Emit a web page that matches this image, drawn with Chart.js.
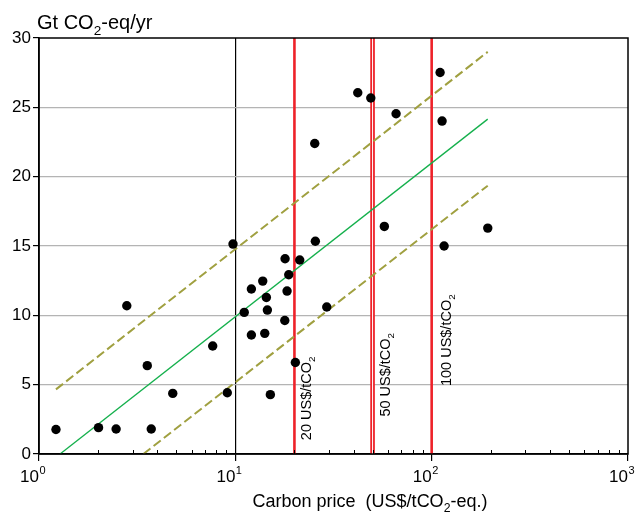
<!DOCTYPE html>
<html>
<head>
<meta charset="utf-8">
<script src="https://cdn.jsdelivr.net/npm/chart.js@4.4.1/dist/chart.umd.min.js"></script>
<style>
  body { margin: 0; background: #fff; }
  canvas { display: block; }
</style>
</head>
<body>
<canvas id="grafico" width="638" height="512"></canvas>
<script>
// dados
const precos = [1.22, 2.01, 2.47, 2.80, 3.56, 3.73, 4.80, 7.67, 9.10, 9.73, 11.1, 12.07, 12.07, 13.79, 14.12, 14.39, 14.56, 15.08, 17.92, 17.86, 18.71, 18.34, 21.28, 20.22, 29.22, 25.38, 25.56, 42.03, 48.97, 57.41, 65.87, 110.4, 113.0, 115.7, 193.1];
const emissoes = [1.77, 1.90, 1.80, 10.69, 6.37, 1.80, 4.37, 7.79, 4.42, 15.14, 10.21, 11.9, 8.58, 12.47, 8.70, 11.29, 10.38, 4.28, 14.08, 9.63, 12.93, 11.75, 13.99, 6.60, 10.6, 22.39, 15.34, 26.05, 25.67, 16.41, 24.54, 27.51, 24.01, 15.0, 16.29];

// regressao e faixa
const ajusteX = [1.28, 193];
const ajusteY = [0, 24.15];
const superiorX = [1.22, 193];
const superiorY = [4.66, 29.0];
const inferiorX = [3.4, 193];
const inferiorY = [0, 19.35];

// linhas de preco
const linhasPreco = [20, 50, 100];
const rotulosPreco = ['20 US$/tCO', '50 US$/tCO', '100 US$/tCO'];
const rotuloPrecoY = [1.0, 2.7, 4.9];

// eixos
const decadas = [1, 10, 100, 1000];
const expoentes = ['0', '1', '2', '3'];
const multiplicadores = [1, 2, 3, 4, 5, 6, 7, 8, 9];
const yMin = 0, yMax = 30, yPasso = 5;

const FONTE = '"Liberation Sans", Arial, sans-serif';

function pares(xs, ys) {
    return xs.map((x, i) => ({ x: x, y: ys[i] }));
}

// texto com subscrito / sobrescrito
function textoRico(ctx, partes, x, y, tam) {
    let cx = x;
    partes.forEach(p => {
        const t = p[0], modo = p[1] || '';
        let dy = 0, s = tam;
        if (modo === 'sub') { s = tam * 0.68; dy = tam * 0.28; }
        if (modo === 'sup') { s = tam * 0.68; dy = -tam * 0.42; }
        ctx.font = s + 'px ' + FONTE;
        ctx.fillText(t, cx, y + dy);
        cx += ctx.measureText(t).width;
    });
    return cx - x;
}

function larguraRica(ctx, partes, tam) {
    let w = 0;
    partes.forEach(p => {
        const s = p[1] ? tam * 0.68 : tam;
        ctx.font = s + 'px ' + FONTE;
        w += ctx.measureText(p[0]).width;
    });
    return w;
}

const extras = {
    id: 'extras',
    afterDraw(chart) {
        const ctx = chart.ctx;
        const area = chart.chartArea;
        const sx = chart.scales.x, sy = chart.scales.y;
        ctx.save();
        ctx.fillStyle = '#000';
        ctx.textAlign = 'left';
        ctx.textBaseline = 'alphabetic';

        // moldura
        ctx.strokeStyle = '#000';
        ctx.lineWidth = 1.5;
        ctx.strokeRect(area.left, area.top, area.right - area.left, area.bottom - area.top);

        // ticks menores para dentro
        ctx.lineWidth = 1;
        sx.ticks.forEach(t => {
            if (decadas.includes(t.value)) return;
            const px = Math.round(sx.getPixelForValue(t.value)) + 0.5;
            ctx.beginPath();
            ctx.moveTo(px, area.bottom);
            ctx.lineTo(px, area.bottom - 4);
            ctx.stroke();
        });

        // rotulos do eixo x: 10 com expoente
        decadas.forEach((d, i) => {
            const px = sx.getPixelForValue(d);
            ctx.font = '17px ' + FONTE;
            ctx.textAlign = 'right';
            ctx.fillText('10', px, area.bottom + 28);
            ctx.textAlign = 'left';
            ctx.font = '11px ' + FONTE;
            ctx.fillText(expoentes[i], px + 0.5, area.bottom + 20);
        });

        // titulo do eixo y
        textoRico(ctx, [['Gt CO'], ['2', 'sub'], ['-eq/yr']], area.left - 2, area.top - 9, 20);

        // titulo do eixo x
        const partesX = [['Carbon price  (US$/tCO'], ['2', 'sub'], ['-eq.)']];
        const wx = larguraRica(ctx, partesX, 18);
        textoRico(ctx, partesX, area.left + 331 - wx / 2, area.bottom + 53, 18);

        // rotulos das linhas de preco
        linhasPreco.forEach((p, i) => {
            const px = sx.getPixelForValue(p);
            const py = sy.getPixelForValue(rotuloPrecoY[i]);
            ctx.save();
            ctx.translate(px + (i === 2 ? 19.5 : 17), py);
            ctx.rotate(-Math.PI / 2);
            textoRico(ctx, [[rotulosPreco[i]], ['2', 'sub']], 0, 0, 14.5);
            ctx.restore();
        });
        ctx.restore();
    }
};

const dadosPontos = pares(precos, emissoes);

const conjuntos = [
    {
        label: 'pontos',
        data: dadosPontos,
        backgroundColor: '#000',
        borderWidth: 0,
        pointRadius: 4.7
    },
    {
        data: pares(ajusteX, ajusteY),
        showLine: true, pointRadius: 0,
        borderColor: '#14b04c', borderWidth: 1.3
    },
    {
        data: pares(superiorX, superiorY),
        showLine: true, pointRadius: 0,
        borderColor: '#a0a040', borderWidth: 2, borderDash: [9, 4]
    },
    {
        data: pares(inferiorX, inferiorY),
        showLine: true, pointRadius: 0,
        borderColor: '#a0a040', borderWidth: 2, borderDash: [9, 4]
    }
];

// o primeiro conjunto fica por cima, entao o branco do 50 vem antes do vermelho
linhasPreco.forEach(p => {
    if (p === 50) {
        conjuntos.push({
            data: [{ x: p, y: yMin }, { x: p, y: yMax }],
            showLine: true, pointRadius: 0,
            borderColor: '#fff', borderWidth: 1
        });
    }
    conjuntos.push({
        data: [{ x: p, y: yMin }, { x: p, y: yMax }],
        showLine: true, pointRadius: 0,
        borderColor: '#ee2229', borderWidth: p === 50 ? 4.6 : 2.6
    });
});

const ticksX = [];
decadas.forEach(d => {
    multiplicadores.forEach(m => {
        const v = d * m;
        if (v <= decadas[decadas.length - 1]) ticksX.push(v);
    });
});

new Chart(document.getElementById('grafico'), {
    type: 'scatter',
    data: { datasets: conjuntos },
    options: {
        responsive: false,
        animation: false,
        layout: { padding: { top: 38, right: 10, left: 0, bottom: 0 } },
        plugins: { legend: { display: false }, tooltip: { enabled: false } },
        scales: {
            x: {
                type: 'logarithmic',
                min: 1, max: 1000,
                afterBuildTicks(scale) {
                    scale.ticks = ticksX.map(v => ({ value: v }));
                },
                afterFit(scale) {
                    scale.height = 58;
                    scale.paddingLeft = 0;
                    scale.paddingRight = 0;
                },
                ticks: { display: false },
                grid: {
                    color: c => (c.tick && c.tick.value === 10 ? '#000' : 'rgba(0,0,0,0)'),
                    tickColor: c => (c.tick && decadas.includes(c.tick.value) ? '#000' : 'rgba(0,0,0,0)'),
                    tickLength: 7,
                    lineWidth: 1.2
                },
                border: { color: '#000', width: 1.5 }
            },
            y: {
                min: yMin, max: yMax,
                afterFit(scale) {
                    scale.width = 39;
                },
                ticks: {
                    stepSize: yPasso,
                    color: '#000',
                    padding: 2,
                    font: { family: FONTE, size: 17 }
                },
                grid: {
                    color: c => (c.tick && (c.tick.value === yMin || c.tick.value === yMax) ? 'rgba(0,0,0,0)' : '#b4b4b4'),
                    tickColor: '#000',
                    tickLength: 6,
                    lineWidth: 1.2
                },
                border: { color: '#000', width: 1.5 }
            }
        }
    },
    plugins: [extras]
});
</script>
</body>
</html>
